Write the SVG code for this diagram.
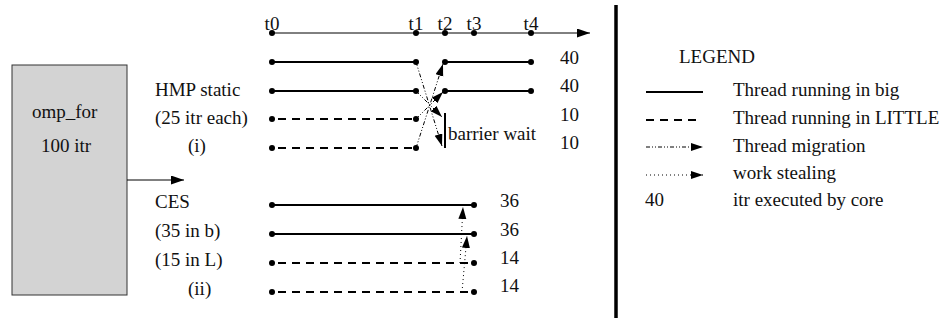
<svg xmlns="http://www.w3.org/2000/svg" width="950" height="322" viewBox="0 0 950 322">
<style>
text{font-family:"Liberation Serif","Times New Roman",serif;font-size:19px;fill:#111}
.big{stroke:#000;stroke-width:2;fill:none}
.little{stroke:#000;stroke-width:2;fill:none;stroke-dasharray:8 6}
.mig{stroke:#000;stroke-width:1;fill:none;stroke-dasharray:4 2 1 2 1 2}
.steal{stroke:#000;stroke-width:1;fill:none;stroke-dasharray:1 3}
.dot{fill:#000}
</style>
<defs>
<marker id="ah" markerUnits="userSpaceOnUse" markerWidth="14" markerHeight="10" refX="13" refY="4.5" orient="auto">
<path d="M0,0 L13,4.5 L0,9 Z" fill="#000"/>
</marker>
<marker id="ahs" markerUnits="userSpaceOnUse" markerWidth="13" markerHeight="9" refX="12" refY="4" orient="auto">
<path d="M0,0 L12,4 L0,8 Z" fill="#000"/>
</marker>
</defs>

<g id="omp_for">
<rect x="12" y="65" width="115" height="230" fill="#d3d3d3" stroke="#333" stroke-width="1"/>
<text x="32" y="118">omp_for</text>
<text x="41" y="152">100 itr</text>
</g>

<g id="labels">
<text x="155" y="96">HMP static</text>
<text x="155" y="124">(25 itr each)</text>
<text x="188" y="152">(i)</text>
<text x="155" y="208">CES</text>
<text x="155" y="237">(35 in b)</text>
<text x="155" y="266">(15 in L)</text>
<text x="188" y="295">(ii)</text>
</g>

<g id="timeline">
<line x1="272" y1="33" x2="590" y2="33" stroke="#000" stroke-width="1" marker-end="url(#ah)"/>
<circle class="dot" cx="272" cy="33" r="3"/>
<circle class="dot" cx="416" cy="33" r="3"/>
<circle class="dot" cx="445" cy="33" r="3"/>
<circle class="dot" cx="474" cy="33" r="3"/>
<circle class="dot" cx="531" cy="33" r="3"/>
<text x="272" y="30" text-anchor="middle">t0</text>
<text x="416" y="30" text-anchor="middle">t1</text>
<text x="445" y="30" text-anchor="middle">t2</text>
<text x="474" y="30" text-anchor="middle">t3</text>
<text x="531" y="30" text-anchor="middle">t4</text>
</g>

<g id="hmp">
<line class="big" x1="272" y1="62" x2="416" y2="62"/>
<line class="big" x1="445" y1="62" x2="531" y2="62"/>
<line class="big" x1="272" y1="91" x2="416" y2="91"/>
<line class="big" x1="445" y1="91" x2="531" y2="91"/>
<line class="little" x1="278" y1="119" x2="416" y2="119"/>
<line class="little" x1="278" y1="148" x2="416" y2="148"/>
<circle class="dot" cx="272" cy="62" r="3"/><circle class="dot" cx="416" cy="62" r="3"/>
<circle class="dot" cx="445" cy="62" r="3"/><circle class="dot" cx="531" cy="62" r="3"/>
<circle class="dot" cx="272" cy="91" r="3"/><circle class="dot" cx="416" cy="91" r="3"/>
<circle class="dot" cx="445" cy="91" r="3"/><circle class="dot" cx="531" cy="91" r="3"/>
<circle class="dot" cx="272" cy="119" r="3"/><circle class="dot" cx="416" cy="119" r="3"/>
<circle class="dot" cx="272" cy="148" r="3"/><circle class="dot" cx="416" cy="148" r="3"/>
<line x1="445" y1="113" x2="445" y2="148" stroke="#000" stroke-width="2"/>
<text x="448" y="140">barrier wait</text>
<text x="560" y="64">40</text>
<text x="560" y="92">40</text>
<text x="560" y="121">10</text>
<text x="560" y="149">10</text>
</g>

<g id="ces">
<line class="big" x1="272" y1="205" x2="474" y2="205"/>
<line class="big" x1="272" y1="234" x2="474" y2="234"/>
<line class="little" x1="278" y1="263" x2="474" y2="263"/>
<line class="little" x1="278" y1="292" x2="474" y2="292"/>
<circle class="dot" cx="272" cy="205" r="3"/><circle class="dot" cx="474" cy="205" r="3"/>
<circle class="dot" cx="272" cy="234" r="3"/><circle class="dot" cx="474" cy="234" r="3"/>
<circle class="dot" cx="272" cy="263" r="3"/><circle class="dot" cx="474" cy="263" r="3"/>
<circle class="dot" cx="272" cy="292" r="3"/><circle class="dot" cx="474" cy="292" r="3"/>
<text x="500" y="207">36</text>
<text x="500" y="236">36</text>
<text x="500" y="264">14</text>
<text x="500" y="292">14</text>
</g>

<g id="connectors">
<line x1="127" y1="180" x2="184" y2="180" stroke="#000" stroke-width="1" marker-end="url(#ah)"/>
<line class="mig" x1="416" y1="62" x2="442" y2="146" marker-end="url(#ahs)"/>
<line class="mig" x1="416" y1="91" x2="442" y2="117" marker-end="url(#ahs)"/>
<line class="mig" x1="416" y1="119" x2="443" y2="92" marker-end="url(#ahs)"/>
<line class="mig" x1="416" y1="148" x2="443" y2="64" marker-end="url(#ahs)"/>
<line class="steal" x1="460" y1="263" x2="463" y2="207" marker-end="url(#ahs)"/>
<line class="steal" x1="462" y1="292" x2="467" y2="236" marker-end="url(#ahs)"/>
</g>

<g id="divider">
<line x1="616" y1="5" x2="616" y2="318" stroke="#000" stroke-width="3.5"/>
</g>

<g id="legend">
<text x="679" y="63">LEGEND</text>
<line class="big" x1="646" y1="92" x2="703" y2="92"/>
<text x="733" y="96">Thread running in big</text>
<line class="little" x1="646" y1="120" x2="700" y2="120" stroke-dasharray="7 8"/>
<text x="733" y="124">Thread running in LITTLE</text>
<line class="mig" x1="646" y1="147" x2="703" y2="147" marker-end="url(#ahs)"/>
<text x="733" y="152">Thread migration</text>
<line class="steal" x1="646" y1="175" x2="703" y2="175" marker-end="url(#ahs)"/>
<text x="733" y="179">work stealing</text>
<text x="645" y="206">40</text>
<text x="733" y="206">itr executed by core</text>
</g>
</svg>
